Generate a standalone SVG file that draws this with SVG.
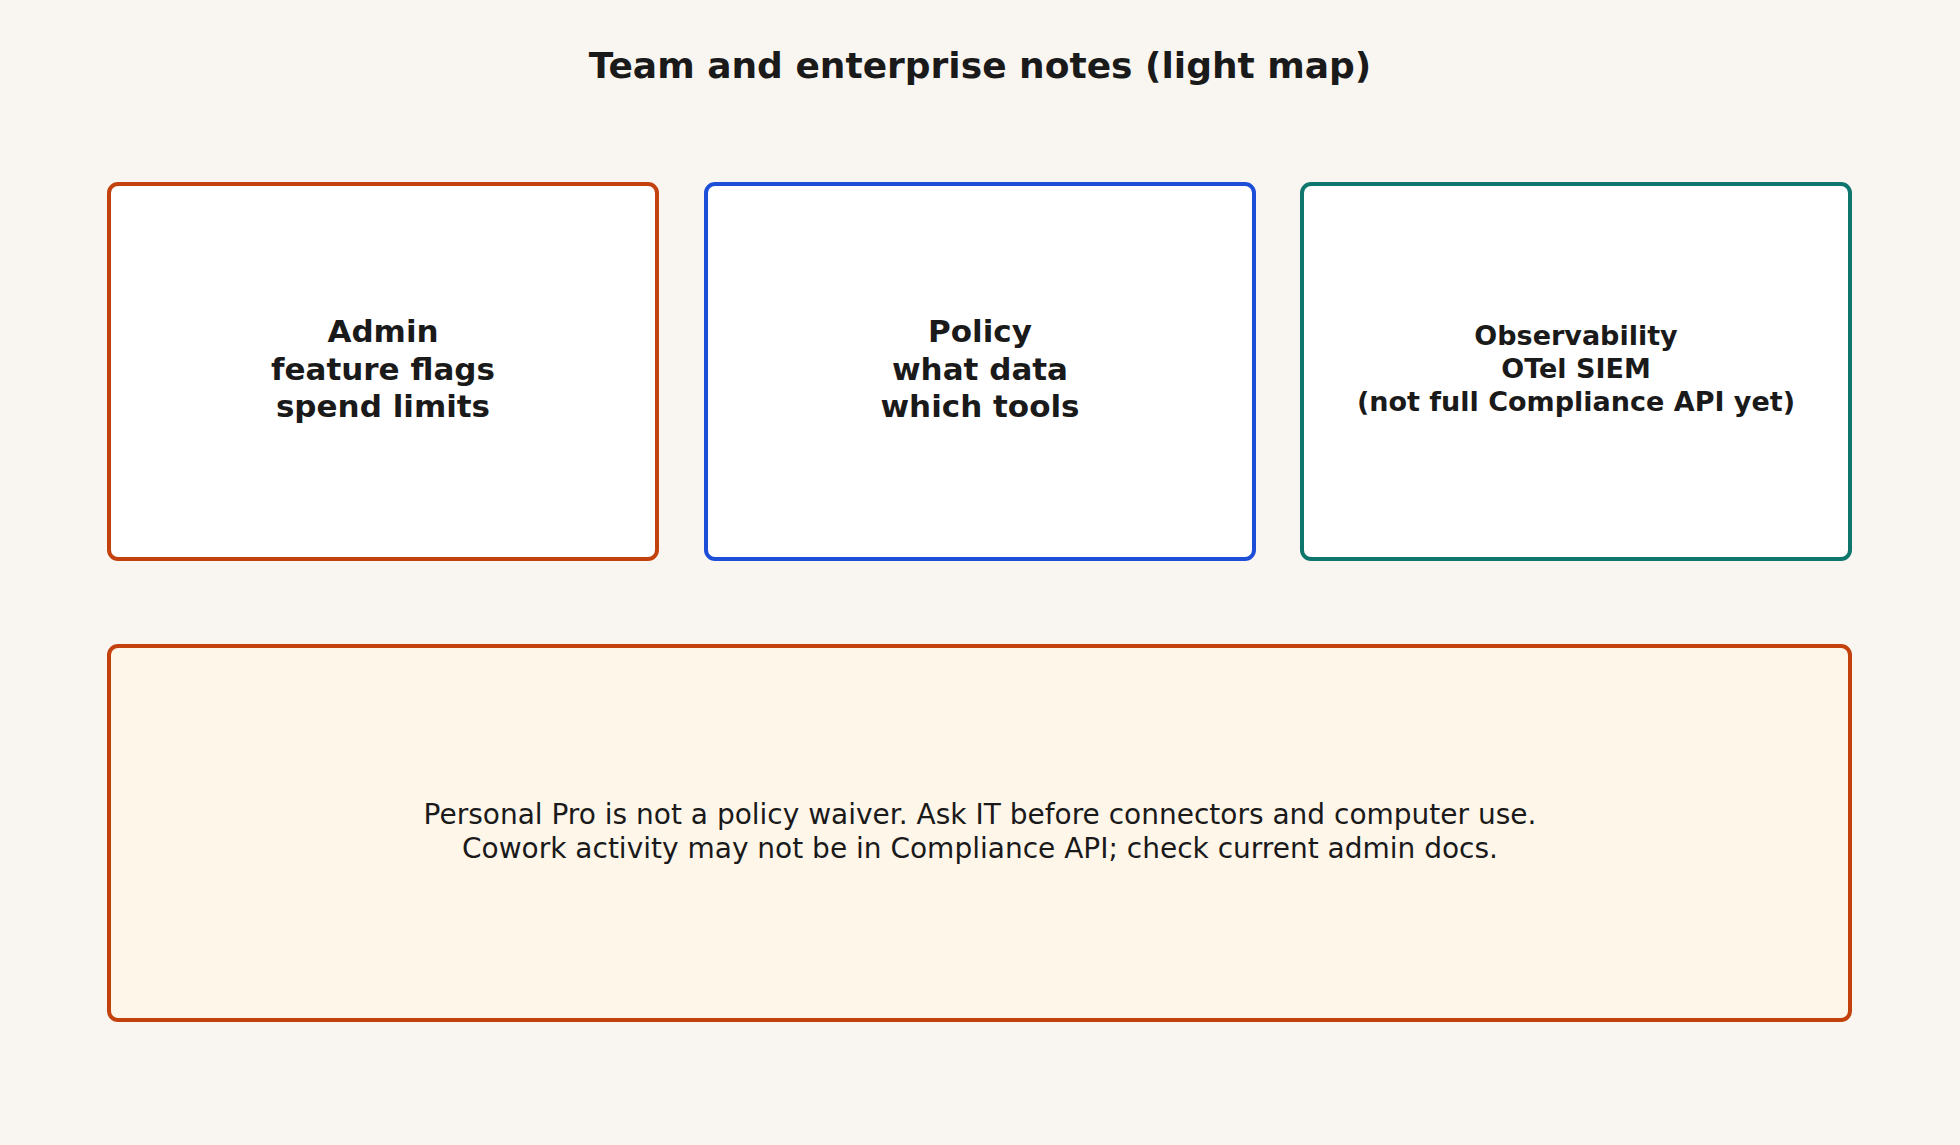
<svg xmlns="http://www.w3.org/2000/svg" width="1960" height="1145" viewBox="0 0 1960 1145">
<style>
text{font-family:"DejaVu Sans",sans-serif;fill:#1a1a1a;text-anchor:middle}
.b{font-weight:bold;font-size:31px}
.s{font-weight:bold;font-size:27px}
.n{font-size:28px}
rect{stroke-width:4}
</style>
<rect width="1960" height="1145" fill="#f9f6f1" style="stroke:none"/>
<text x="980" y="78" style="font-weight:bold;font-size:36px">Team and enterprise notes (light map)</text>
<g id="admin"><rect x="109" y="184" width="548" height="375" rx="9" fill="#fff" stroke="#c2410c"/>
<text class="b" x="383" y="342">Admin</text><text class="b" x="383" y="380">feature flags</text><text class="b" x="383" y="417">spend limits</text></g>
<g id="policy"><rect x="706" y="184" width="548" height="375" rx="9" fill="#fff" stroke="#1d4ed8"/>
<text class="b" x="980" y="342">Policy</text><text class="b" x="980" y="380">what data</text><text class="b" x="980" y="417">which tools</text></g>
<g id="observability"><rect x="1302" y="184" width="548" height="375" rx="9" fill="#fff" stroke="#0f766e"/>
<text class="s" x="1576" y="345">Observability</text><text class="s" x="1576" y="378">OTel SIEM</text><text class="s" x="1576" y="411">(not full Compliance API yet)</text></g>
<g id="note"><rect x="109" y="646" width="1741" height="374" rx="9" fill="#fff6ea" stroke="#c2410c"/>
<text class="n" x="980" y="824">Personal Pro is not a policy waiver. Ask IT before connectors and computer use.</text>
<text class="n" x="980" y="858">Cowork activity may not be in Compliance API; check current admin docs.</text></g>
<g id="connectors"></g>
</svg>
